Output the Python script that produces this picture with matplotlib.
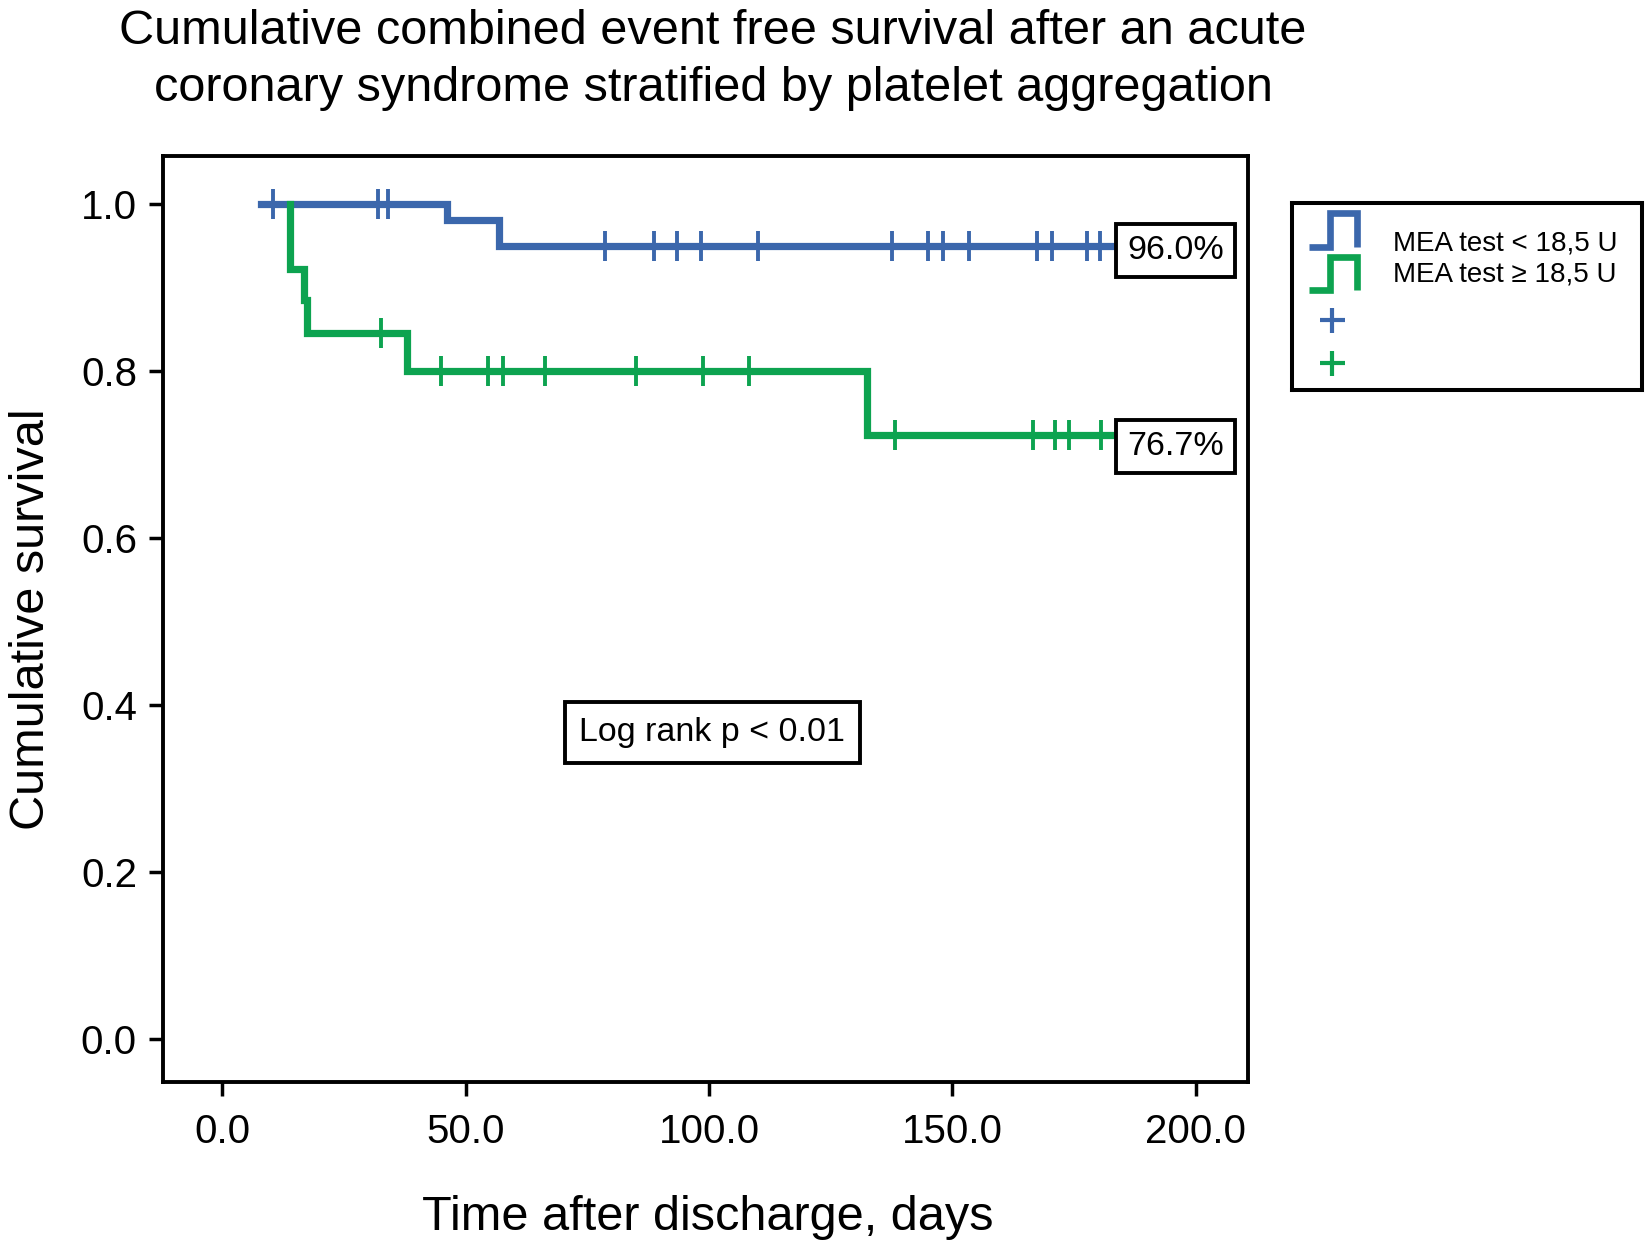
import numpy as np
import matplotlib
matplotlib.use("Agg")
import matplotlib.pyplot as plt

plt.rcParams['font.family'] = ['Liberation Sans', 'DejaVu Sans']

# ---------------- data ----------------
title_lines = ["Cumulative combined event free survival after an acute",
               "coronary syndrome stratified by platelet aggregation"]
xlabel = "Time after discharge, days"
ylabel = "Cumulative survival"
series_labels = ["MEA test < 18,5 U", "MEA test \u2265 18,5 U"]

x_ticks = [0, 50, 100, 150, 200]
x_ticklabels = ["0.0", "50.0", "100.0", "150.0", "200.0"]
y_ticks = [0.0, 0.2, 0.4, 0.6, 0.8, 1.0]
y_ticklabels = ["0.0", "0.2", "0.4", "0.6", "0.8", "1.0"]

# step curves (time, survival) - survival holds from this time on
blue_time = [7.9, 46.2, 56.8, 183.5]
blue_surv = [1.000, 0.981, 0.950, 0.950]
blue_cens = [10.5, 32.0, 34.1, 78.7, 88.7, 93.4, 98.3, 110.0, 137.6,
             145.1, 148.1, 153.4, 167.4, 170.4, 177.6, 180.3]

green_time = [14.0, 14.0, 16.8, 17.4, 38.0, 132.5, 183.5]
green_surv = [1.000, 0.923, 0.885, 0.846, 0.800, 0.723, 0.723]
green_cens = [32.7, 45.0, 54.6, 57.6, 66.3, 85.1, 98.7, 108.2, 138.2,
              166.5, 171.1, 173.9, 180.5]

end_labels = ["96.0%", "76.7%"]
end_label_x = 195.9
end_label_y = [0.945, 0.710]
logrank_text = "Log rank p < 0.01"
logrank_xy = (100.7, 0.367)

blue = "#3B67AC"
green = "#0DA350"


def step_value(times, surv, t):
    times = np.asarray(times)
    surv = np.asarray(surv)
    idx = np.searchsorted(times, t, side='right') - 1
    return surv[np.clip(idx, 0, len(surv) - 1)]


# ---------------- figure ----------------
fig = plt.figure(figsize=(16.45, 12.51), dpi=100)
ax = fig.add_axes([0.0993, 0.1351, 0.6595, 0.7402])

lw = 5.2
ax.step(blue_time, blue_surv, where='post', color=blue, lw=lw, zorder=3,
        solid_joinstyle='miter')
ax.plot(blue_cens, [step_value(blue_time, blue_surv, t) for t in blue_cens],
        ls='none', marker='|', ms=21, mew=2.8, color=blue, zorder=3)
ax.step(green_time, green_surv, where='post', color=green, lw=lw, zorder=4,
        solid_joinstyle='miter', solid_capstyle='projecting')
ax.plot(green_cens, [step_value(green_time, green_surv, t) for t in green_cens],
        ls='none', marker='|', ms=21, mew=2.8, color=green, zorder=4)

box = dict(boxstyle='square,pad=0.32', fc='white', ec='black', lw=2.8)
for lab, yy in zip(end_labels, end_label_y):
    ax.text(end_label_x, yy, lab, fontsize=24.5, ha='center', va='center',
            bbox=box, zorder=6)
ax.text(logrank_xy[0], logrank_xy[1], logrank_text, fontsize=24.5,
        ha='center', va='center',
        bbox=dict(boxstyle='square,pad=0.43', fc='white', ec='black', lw=2.8),
        zorder=6)

ax.set_xlim(-12.1, 210.8)
ax.set_ylim(-0.052, 1.058)
ax.set_xticks(x_ticks)
ax.set_xticklabels(x_ticklabels)
ax.set_yticks(y_ticks)
ax.set_yticklabels(y_ticklabels)
ax.tick_params(axis='both', direction='out', length=10, width=2.5,
               labelsize=29, color='black')
ax.tick_params(axis='x', pad=12)
ax.tick_params(axis='y', pad=9)
for s in ax.spines.values():
    s.set_linewidth(2.8)
    s.set_color('black')

ax.set_xlabel(xlabel, fontsize=35)
ax.xaxis.set_label_coords(0.502, -0.1593)
ax.xaxis.label.set_verticalalignment('baseline')
ax.set_ylabel(ylabel, fontsize=35)
ax.yaxis.set_label_coords(-0.101, 0.5)

fig.text(0.4335, 0.9648, title_lines[0], fontsize=35, ha='center', va='baseline')
fig.text(0.4335, 0.9195, title_lines[1], fontsize=35, ha='center', va='baseline')

# ---------------- legend box ----------------
lax = fig.add_axes([0.7852, 0.6882, 0.2128, 0.1493])
lax.set_xlim(0, 1)
lax.set_ylim(0, 1)
lax.set_xticks([])
lax.set_yticks([])
for s in lax.spines.values():
    s.set_linewidth(2.9)
    s.set_color('black')

icon_x = [0.050, 0.109, 0.109, 0.187, 0.187]
for col, (ylo, yhi), lab, ty in zip([blue, green],
                                    [(0.768, 0.946), (0.536, 0.714)],
                                    series_labels, [0.785, 0.617]):
    lax.plot(icon_x, [ylo, ylo, yhi, yhi, ylo], color=col, lw=4.8,
             solid_joinstyle='miter', solid_capstyle='butt')
    lax.text(0.290, ty, lab, fontsize=20, ha='left', va='center')
for col, yy in zip([blue, green], [0.375, 0.143]):
    lax.plot([0.114], [yy], marker='+', ms=18, mew=3.0, color=col, ls='none')

fig.savefig("out.png", dpi=100, facecolor='white')
